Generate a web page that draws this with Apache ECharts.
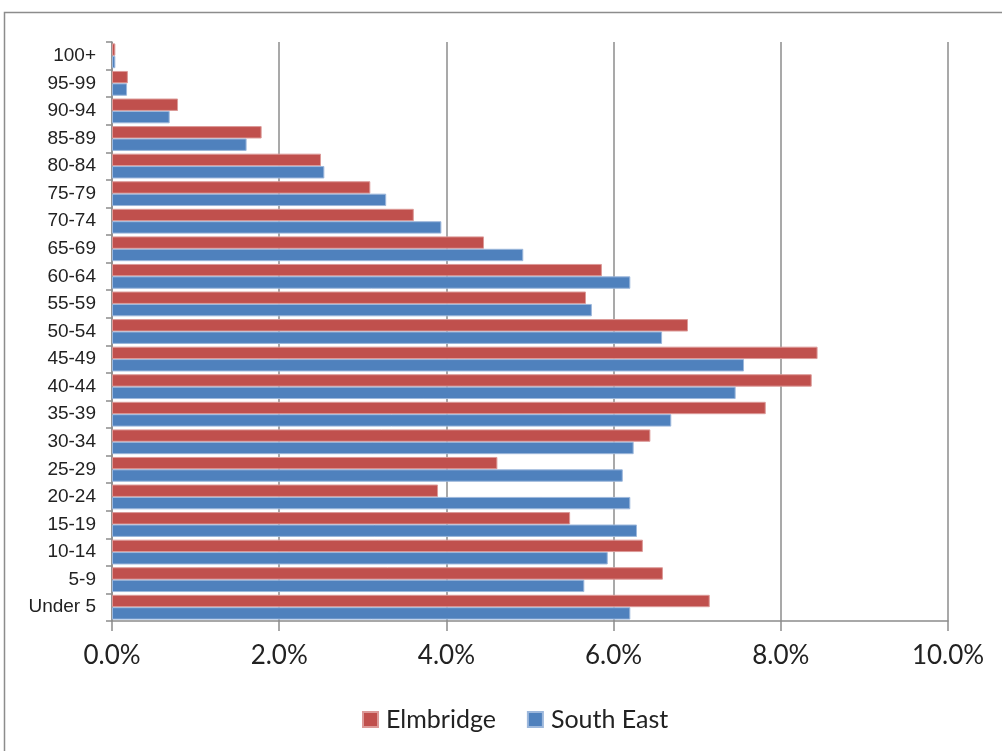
<!DOCTYPE html>
<html><head><meta charset="utf-8">
<script src="https://cdn.jsdelivr.net/npm/echarts@6/dist/echarts.min.js"></script>
<style>html,body{margin:0;padding:0;background:#fff}#c{width:1002px;height:751px}</style>
</head><body><div id="c"></div>
<script>
const categories = ['Under 5','5-9','10-14','15-19','20-24','25-29','30-34','35-39','40-44','45-49','50-54','55-59','60-64','65-69','70-74','75-79','80-84','85-89','90-94','95-99','100+'];
const elmbridge = [7.15,6.59,6.35,5.48,3.90,4.61,6.44,7.82,8.37,8.44,6.89,5.67,5.86,4.45,3.61,3.09,2.50,1.79,0.79,0.19,0.04];
const southEast = [6.20,5.65,5.93,6.28,6.20,6.11,6.24,6.69,7.46,7.56,6.58,5.74,6.20,4.92,3.94,3.28,2.54,1.61,0.69,0.18,0.04];
const xTicks = [0,2,4,6,8,10];

const chart = echarts.init(document.getElementById('c'), null, {renderer:'canvas'});
chart.setOption({
  animation:false,
  graphic:[{type:'rect',shape:{x:4.5,y:12.5,width:1000,height:760},style:{fill:null,stroke:'#8c8c8c',lineWidth:1.5},silent:true,z:-1}],
  grid:{left:112,right:54,top:42,bottom:130,containLabel:false},
  legend:{data:['Elmbridge','South East'],left:357,top:702,itemWidth:15,itemHeight:15,itemGap:31,icon:'rect',
    textStyle:{fontFamily:'Lato, "Open Sans", sans-serif',fontSize:25,color:'#222',padding:[0,0,0,3]}},
  xAxis:{type:'value',min:xTicks[0],max:xTicks[xTicks.length-1],interval:xTicks[1]-xTicks[0],
    axisLine:{show:true,lineStyle:{color:'#8c8c8c',width:1.5}},
    axisTick:{show:true,length:10,lineStyle:{color:'#8c8c8c',width:1.5}},
    splitLine:{show:true,lineStyle:{color:'#8c8c8c',width:1.5}},
    axisLabel:{margin:22,fontFamily:'Lato, "Open Sans", sans-serif',fontSize:26,color:'#222',
      formatter:v=>v.toFixed(1)+'%'}},
  yAxis:{type:'category',data:categories,
    axisLine:{show:true,lineStyle:{color:'#8c8c8c',width:1.5}},
    axisTick:{show:true,length:6,lineStyle:{color:'#8c8c8c',width:1.5}},
    axisLabel:{margin:16,fontFamily:'"Liberation Sans", Arial, sans-serif',fontSize:19,color:'#222'}},
  series:[
    {name:'Elmbridge',type:'bar',data:elmbridge,barGap:'0%',barCategoryGap:'10%',
      itemStyle:{color:'#C0504D',borderColor:'#dc9a98',borderWidth:1}},
    {name:'South East',type:'bar',data:southEast,barGap:'0%',barCategoryGap:'10%',
      itemStyle:{color:'#4F81BD',borderColor:'#9db8dc',borderWidth:1}}
  ]
});
</script></body></html>
